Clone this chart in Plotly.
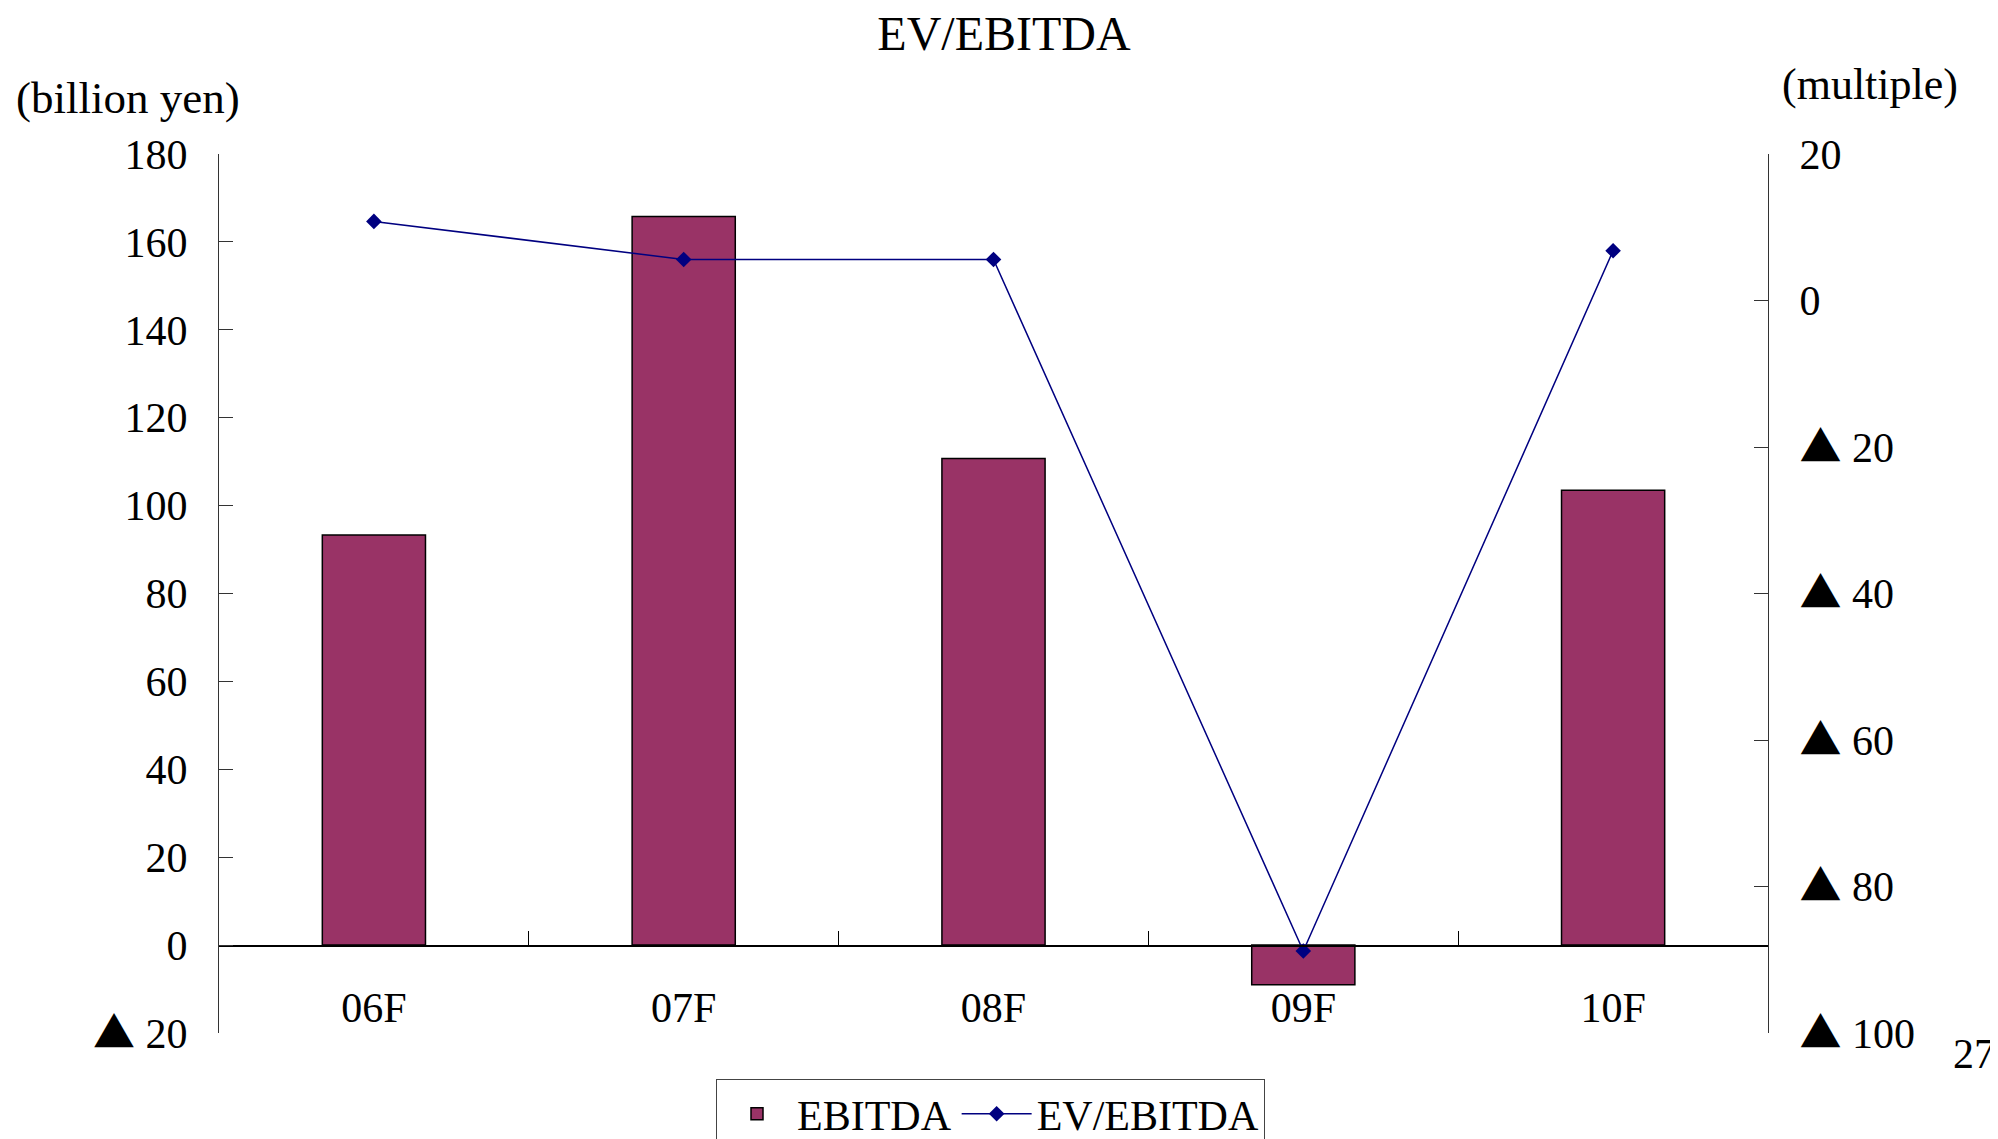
import plotly.graph_objects as go

categories = ["06F", "07F", "08F", "09F", "10F"]
ebitda = [93.3, 165.8, 110.7, -9.0, 103.5]
ev_ebitda = [10.8, 5.6, 5.6, -88.8, 6.8]

left_ticks = [-20, 0, 20, 40, 60, 80, 100, 120, 140, 160, 180]
left_text = ["▲ 20", "0", "20", "40", "60", "80", "100", "120", "140", "160", "180"]
right_ticks = [-100, -80, -60, -40, -20, 0, 20]
right_text = ["▲ 100", "▲ 80", "▲ 60", "▲ 40", "▲ 20", "0", "20"]

FONT = "Liberation Serif, Times New Roman, serif"
TRI = "<span style='font-family:Noto Sans CJK JP'>▲</span>"


def tri(t):
    return t.replace("▲", TRI)


# page is offset by the 8px body margin
OFF = 8
W, H = 1998 - OFF, 1139 - OFF
L, R, T, B = 219 - OFF, W - (1768 - OFF), 154 - OFF, H - (1033 - OFF)
PW, PH = W - L - R, H - T - B


def px(X):
    return (X - OFF - L) / PW


def py(Y):
    return (H - B - (Y - OFF)) / PH


fig = go.Figure()
fig.add_trace(go.Bar(
    x=categories, y=ebitda, name="EBITDA",
    marker=dict(color="#993366", line=dict(color="black", width=1.5)),
    xaxis="x", yaxis="y",
))
fig.add_trace(go.Scatter(
    x=categories, y=ev_ebitda, name="EV/EBITDA",
    mode="lines+markers",
    line=dict(color="#000080", width=1.5),
    marker=dict(symbol="diamond", size=12, color="#000080"),
    xaxis="x", yaxis="y2",
))

fig.update_layout(
    width=W, height=H,
    margin=dict(l=L, r=R, t=T, b=B, autoexpand=False),
    paper_bgcolor="white", plot_bgcolor="white",
    font=dict(family=FONT, size=42, color="black"),
    title=dict(text="EV/EBITDA", x=(1004 - OFF) / W, xanchor="center",
               y=1 - (33 - OFF) / H, yanchor="middle",
               font=dict(family=FONT, size=48, color="black")),
    bargap=0.667,
    showlegend=True,
    legend=dict(orientation="h", x=px(716), xanchor="left",
                y=py(1079), yanchor="top",
                bordercolor="#444", borderwidth=1,
                font=dict(family=FONT, size=42, color="black"),
                itemwidth=70, bgcolor="white"),
    xaxis=dict(
        type="category", anchor="free", position=py(945.5),
        showline=True, linecolor="black", linewidth=1.5,
        ticks="inside", tickson="boundaries", ticklen=14, tickcolor="black", tickwidth=1,
        ticklabelstandoff=25, showgrid=False, zeroline=False,
        tickfont=dict(family=FONT, size=42, color="black"),
    ),
    yaxis=dict(
        range=[-20, 180], tickvals=left_ticks, ticktext=[tri(t) for t in left_text],
        showline=True, linecolor="#333", linewidth=1,
        ticks="inside", ticklen=14, tickcolor="#333",
        ticklabelstandoff=22, showgrid=False, zeroline=False,
        tickfont=dict(family=FONT, size=42, color="black"),
    ),
    yaxis2=dict(
        range=[-100, 20], tickvals=right_ticks, ticktext=[tri(t) for t in right_text],
        overlaying="y", side="right", anchor="x",
        showline=True, linecolor="#333", linewidth=1,
        ticks="inside", ticklen=14, tickcolor="#333",
        ticklabelstandoff=22, showgrid=False, zeroline=False,
        tickfont=dict(family=FONT, size=42, color="black"),
    ),
    annotations=[
        dict(text="(billion yen)", xref="paper", yref="paper",
             x=px(14), xanchor="left",
             y=py(98), yanchor="middle", showarrow=False,
             font=dict(family=FONT, size=45, color="black")),
        dict(text="(multiple)", xref="paper", yref="paper",
             x=px(1780), xanchor="left",
             y=py(84), yanchor="middle", showarrow=False,
             font=dict(family=FONT, size=44, color="black")),
        dict(text="27", xref="paper", yref="paper",
             x=px(1997), xanchor="right",
             y=py(1054), yanchor="middle", showarrow=False,
             font=dict(family=FONT, size=42, color="black")),
    ],
)

fig.write_html("out.html")
